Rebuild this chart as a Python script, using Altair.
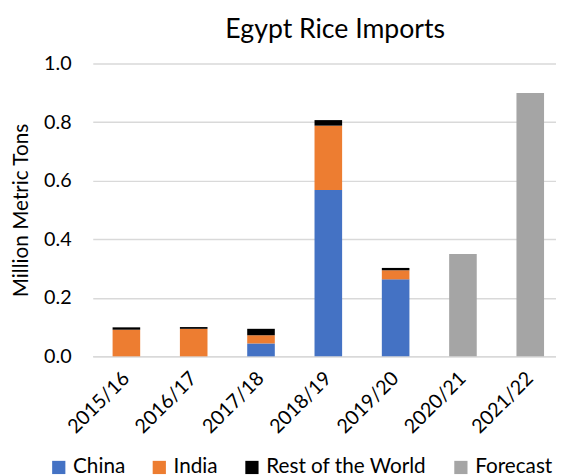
import altair as alt
import pandas as pd

years = ["2015/16", "2016/17", "2017/18", "2018/19", "2019/20", "2020/21", "2021/22"]
china = [0.0, 0.0, 0.044, 0.568, 0.263, 0.0, 0.0]
india = [0.091, 0.094, 0.028, 0.220, 0.031, 0.0, 0.0]
rest = [0.008, 0.006, 0.022, 0.019, 0.008, 0.0, 0.0]
forecast = [0.0, 0.0, 0.0, 0.0, 0.0, 0.35, 0.90]

series = ["China", "India", "Rest of the World", "Forecast"]
colors = ["#4472C4", "#ED7D31", "#000000", "#A5A5A5"]

rows = []
for i, y in enumerate(years):
    for k, (name, vals) in enumerate(zip(series, [china, india, rest, forecast])):
        if vals[i] > 0:
            rows.append({"year": y, "series": name, "value": vals[i], "order": k})
df = pd.DataFrame(rows)

FONT = "Lato"

chart = alt.Chart(df).mark_bar().encode(
    x=alt.X("year:N", sort=years,
            scale=alt.Scale(paddingInner=0.59, paddingOuter=0.236, align=0.624),
            axis=alt.Axis(title=None, labelAngle=-45, labelAlign="right", labelBaseline="middle",
                          labelFontSize=20, labelFont=FONT, labelColor="#000000",
                          ticks=False, domain=True, domainColor="#D9D9D9", domainWidth=1.5,
                          labelPadding=19)),
    y=alt.Y("value:Q", stack="zero",
            scale=alt.Scale(domain=[0, 1.0]),
            axis=alt.Axis(title="Million Metric Tons", values=[0, 0.2, 0.4, 0.6, 0.8, 1.0],
                          format=".1f", labelFontSize=20, labelFont=FONT, labelColor="#000000",
                          titleFont=FONT, titleFontSize=21, titleFontWeight="normal", titleColor="#000000",
                          titlePadding=12, labelPadding=22, ticks=False, domain=False,
                          grid=True, gridColor="#D9D9D9", gridWidth=1.5)),
    color=alt.Color("series:N", sort=series,
                    scale=alt.Scale(domain=series, range=colors),
                    legend=alt.Legend(title=None, orient="none", direction="horizontal",
                                      legendX=-45, legendY=399,
                                      symbolType="square", symbolSize=180, symbolStrokeWidth=0,
                                      labelFont=FONT, labelFontSize=21, labelColor="#000000",
                                      labelLimit=400, columnPadding=24, labelOffset=4)),
    order=alt.Order("order:Q"),
).properties(
    width=470, height=297,
    title=alt.TitleParams("Egypt Rice Imports", font=FONT, fontSize=27, fontWeight="normal",
                          color="#000000", anchor="middle", offset=10, dx=11),
    autosize=alt.AutoSizeParams(type="none"),
    padding={"left": 86, "top": 53, "right": 0, "bottom": 118},
).configure_view(stroke=None)

chart.save("out.html", embed_options={"renderer": "svg", "actions": False})
